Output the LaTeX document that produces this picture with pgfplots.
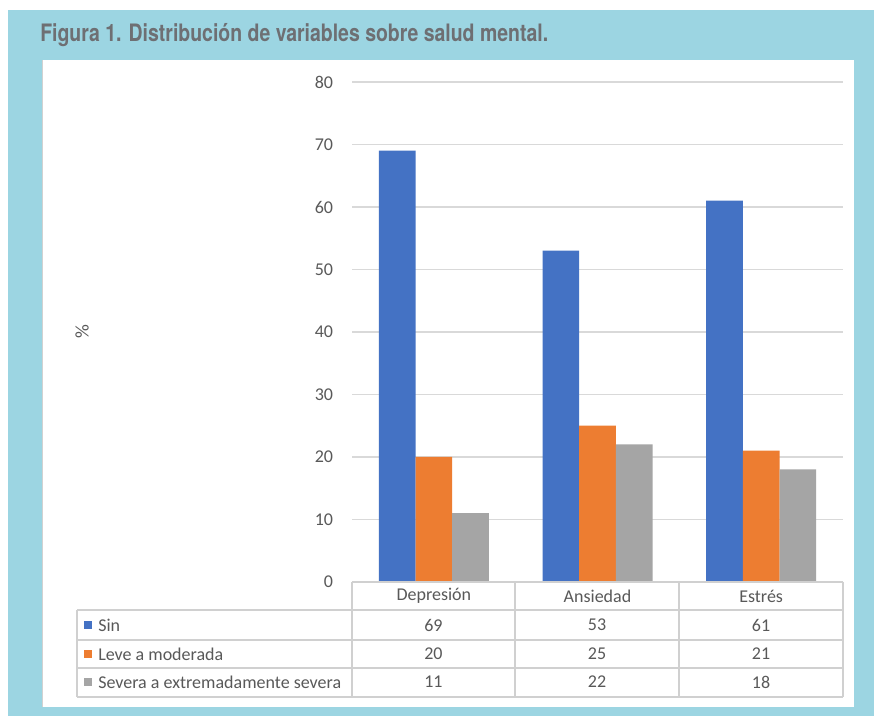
\documentclass[border=0pt]{standalone}
\usepackage{fontspec}
\usepackage{graphicx}
\usepackage{pgfplots}
\pgfplotsset{compat=1.18}
\setmainfont{Carlito}
\newfontfamily\titlefont{TeX Gyre Heros}

\definecolor{framecyan}{HTML}{9CD5E2}
\definecolor{titlegrey}{HTML}{6E6F73}
\definecolor{txt}{HTML}{595959}
\definecolor{gridc}{HTML}{D9D9D9}
\definecolor{tablec}{HTML}{D0D0D0}
\definecolor{sinc}{HTML}{4472C4}
\definecolor{levec}{HTML}{ED7D31}
\definecolor{severac}{HTML}{A5A5A5}

\begin{document}
\begin{tikzpicture}
\fontsize{13.5}{16}\selectfont
% page, frame and white panel
\fill[white] (0,0) rectangle (655.5pt,537pt);
\fill[framecyan] (6pt,0pt) rectangle (655.5pt,529.5pt);
\fill[black!18] (31.5pt,6.75pt) rectangle (640.5pt,492pt);
\fill[white] (32.25pt,6.75pt) rectangle (640.5pt,492pt);

% title
\node[anchor=base west, inner sep=0pt, text=titlegrey] at (30pt,505.5pt)
  {\resizebox{381pt}{\height}{\titlefont\fontsize{18}{21}\selectfont\bfseries Figura 1. Distribución de variables sobre salud mental.}};

\begin{axis}[
  at={(264pt,100.5pt)}, anchor=south west,
  scale only axis, width=368.25pt, height=375pt,
  ybar=0pt, bar width=27.5pt,
  xmin=-0.5, xmax=2.5, ymin=0, ymax=80,
  xtick=data, xticklabels={Depresión, Ansiedad, Estrés},
  ytick={0,10,...,80},
  major tick length=0pt,
  axis line style={draw=none},
  ymajorgrids, grid style={gridc, line width=0.8pt},
  tick label style={text=txt, font=\fontsize{13.5}{16}\selectfont},
  /pgf/number format/assume math mode=true,
  yticklabel style={xshift=-9.5pt},
  xticklabel style={anchor=center, yshift=-10.5pt},
  ylabel={\%},
  every axis y label/.style={at={(rel axis cs:0,0.5)}, xshift=-202.5pt, rotate=90, anchor=center, text=txt, font=\fontsize{14.5}{16}\selectfont},
  clip=false,
]
\addplot[fill=sinc, draw=none] coordinates {(0,69) (1,53) (2,61)};
\addplot[fill=levec, draw=none] coordinates {(0,20) (1,25) (2,21)};
\addplot[fill=severac, draw=none] coordinates {(0,11) (1,22) (2,18)};
\end{axis}

% data table under the plot
\begin{scope}[tablec, line width=0.8pt]
\draw (264pt,100.5pt) -- (632.25pt,100.5pt);
\foreach \y in {79.5,57,36,14.25} \draw (57.75pt,\y pt) -- (632.25pt,\y pt);
\draw (57.75pt,79.5pt) -- (57.75pt,14.25pt);
\foreach \x in {264,386.25,509.25,632.25} \draw (\x pt,100.5pt) -- (\x pt,14.25pt);
\end{scope}

\fill[sinc]    (63pt,65.25pt) rectangle (69pt,71.25pt);
\fill[levec]   (63pt,43.5pt)  rectangle (69pt,49.5pt);
\fill[severac] (63pt,22.5pt)  rectangle (69pt,28.5pt);

\begin{scope}[text=txt]
\node[anchor=west, inner sep=0pt] at (73.5pt,68.25pt) {Sin};
\node[anchor=west, inner sep=0pt] at (73.5pt,46.5pt) {Leve a moderada};
\node[anchor=west, inner sep=0pt] at (73.5pt,25.5pt) {Severa a extremadamente severa};

\node at (325.1pt,68.25pt) {69};
\node at (447.75pt,68.25pt) {53};
\node at (570.75pt,68.25pt) {61};
\node at (325.1pt,46.5pt) {20};
\node at (447.75pt,46.5pt) {25};
\node at (570.75pt,46.5pt) {21};
\node at (325.1pt,25.5pt) {11};
\node at (447.75pt,25.5pt) {22};
\node at (570.75pt,25.5pt) {18};
\end{scope}
\end{tikzpicture}
\end{document}
